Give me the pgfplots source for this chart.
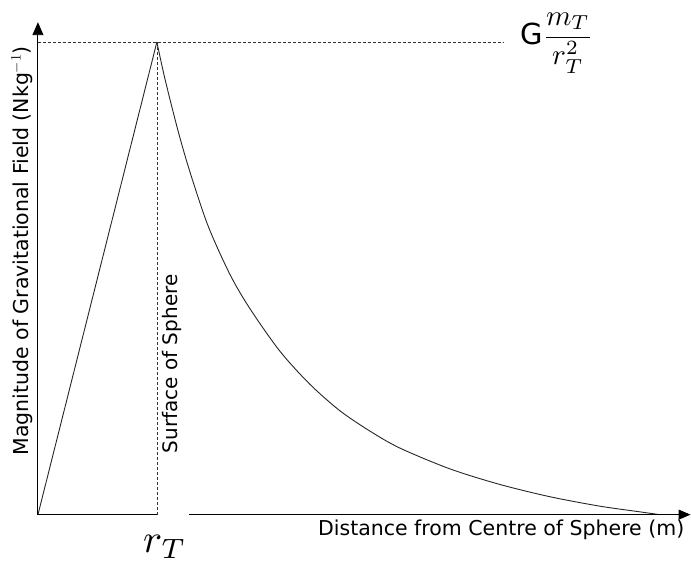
\documentclass[border=0pt]{standalone}
\usepackage{pgfplots}
\pgfplotsset{compat=1.18}
\usepackage{amsmath}
\usepackage{fontspec}
\setmainfont{DejaVu Sans}
\usetikzlibrary{arrows.meta}

\begin{document}
\begin{tikzpicture}
\begin{axis}[
  scale only axis,
  width=691pt, height=567pt,
  xmin=-0.319, xmax=5.487,
  ymin=-0.110, ymax=1.089,
  hide axis,
  clip=false]
% fix the picture's extent to the axis area
\path (rel axis cs:0,0) rectangle (rel axis cs:1,1);
% field strength, in units of r_T and of G m_T / r_T^2
\addplot[black!85, line width=0.9pt] coordinates {
 (0,0) (1.0,1.0)
};
\addplot[black!85, line width=0.9pt, smooth] coordinates {
 (1.0,1.0) (1.067,0.923) (1.176,0.814) (1.277,0.726) (1.429,0.612)
 (1.613,0.509) (1.782,0.436) (2.034,0.346) (2.286,0.276) (2.538,0.220)
 (2.790,0.177) (3.042,0.141) (3.462,0.097) (3.882,0.064) (4.303,0.038)
 (4.723,0.018) (5.059,0.006) (5.227,0.0)
};
% axes
\draw[black, line width=0.9pt, -{Triangle[length=13pt,width=11pt]}] (axis cs:0,0) -- (axis cs:0,1.042);
\draw[black, line width=0.9pt] (axis cs:0,0) -- (axis cs:1.008,0);
\draw[black, line width=0.9pt, -{Triangle[length=12pt,width=10pt]}] (axis cs:1.269,0) -- (axis cs:5.487,0);
% guides
\draw[black!80, line width=0.7pt, densely dashed] (axis cs:0,1) -- (axis cs:3.908,1);
\draw[black!80, line width=0.7pt, densely dashed] (axis cs:1,0) -- (axis cs:1,1);
% labels
\node[rotate=90, font=\fontsize{20.5}{24}\selectfont] at (axis cs:-0.134,0.558) {Magnitude of Gravitational Field (Nkg$^{-1}$)};
\node[font=\fontsize{20.5}{24}\selectfont] at (axis cs:3.895,-0.032) {Distance from Centre of Sphere (m)};
\node[rotate=90, font=\fontsize{20}{24}\selectfont] at (axis cs:1.126,0.319) {Surface of Sphere};
\node[scale=4, inner sep=0pt] at (axis cs:1.067,-0.068) {$r_T$};
\node[scale=2.9, inner sep=0pt] at (axis cs:4.361,0.998) {G$\dfrac{m_T}{r_T^2}$};
\end{axis}
\end{tikzpicture}
\end{document}
